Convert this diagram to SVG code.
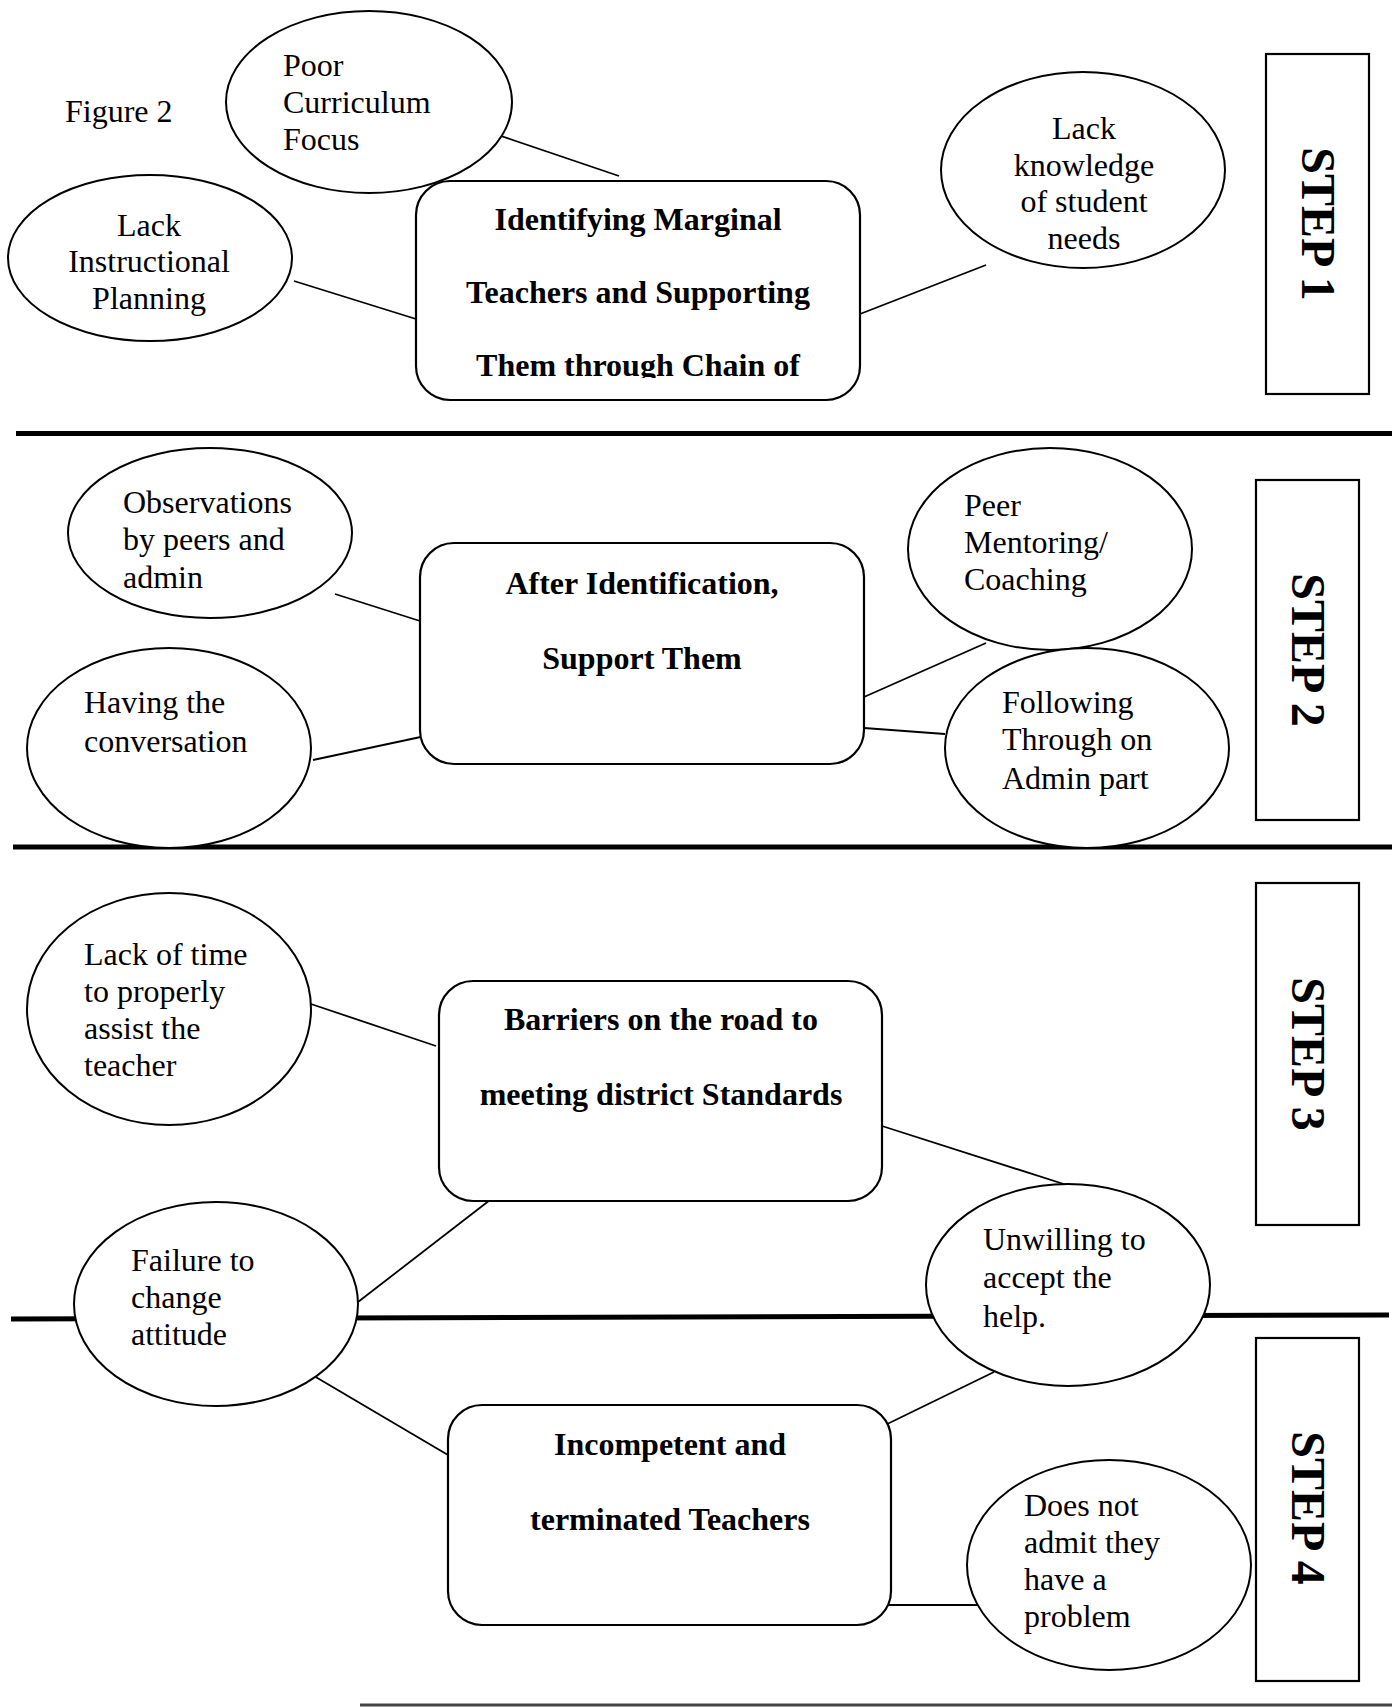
<svg xmlns="http://www.w3.org/2000/svg" width="1392" height="1708" viewBox="0 0 1392 1708">
<style>
.bg{fill:#fff}
.ell{fill:#fff;stroke:#000;stroke-width:2}
.box{fill:#fff;stroke:#000;stroke-width:2.2}
.stepbox{fill:#fff;stroke:#000;stroke-width:2.2}
.conn line{stroke:#000;stroke-width:1.8}
.sep{stroke:#000;stroke-width:5}
.t{font-family:"Liberation Serif","Times New Roman",serif;font-size:32px;fill:#000}
.c{text-anchor:middle}
.b{font-family:"Liberation Serif","Times New Roman",serif;font-size:32px;font-weight:bold;fill:#000;text-anchor:middle}
.step{font-family:"Liberation Serif","Times New Roman",serif;font-size:48px;font-weight:bold;fill:#000;text-anchor:middle}
</style>
<defs>
<clipPath id="clip1"><rect x="416" y="181" width="444" height="197"/></clipPath>
</defs>
<rect class="bg" x="0" y="0" width="1392" height="1708"/>

<g id="separators">
<line class="sep" x1="16" y1="433.5" x2="1392" y2="433.5"/>
<line class="sep" x1="13" y1="847" x2="1392" y2="847"/>
<line class="sep" x1="11" y1="1319" x2="1389" y2="1315"/>
<line x1="360" y1="1705" x2="1392" y2="1705" stroke="#444" stroke-width="3"/>
</g>

<text id="figure-label" class="t" x="65" y="122">Figure 2</text>

<g id="connectors" class="conn">
<line x1="501" y1="136" x2="619" y2="176"/>
<line x1="294" y1="281" x2="416" y2="319"/>
<line x1="860" y1="314" x2="986" y2="265"/>
<line x1="335" y1="594" x2="420" y2="621"/>
<line x1="313" y1="760" x2="430" y2="735"/>
<line x1="864" y1="697" x2="986" y2="643"/>
<line x1="864" y1="728" x2="945" y2="734"/>
<line x1="311" y1="1004" x2="436" y2="1046"/>
<line x1="358" y1="1302" x2="490" y2="1200"/>
<line x1="882" y1="1126" x2="1073" y2="1187"/>
<line x1="314" y1="1376" x2="448" y2="1455"/>
<line x1="994" y1="1372" x2="879" y2="1428"/>
<line x1="884" y1="1605" x2="982" y2="1605"/>
</g>

<g id="poor-curriculum">
<ellipse class="ell" cx="369" cy="102" rx="143" ry="91"/>
<text class="t" x="283" y="76">Poor</text>
<text class="t" x="283" y="113">Curriculum</text>
<text class="t" x="283" y="150">Focus</text>
</g>
<g id="lack-instructional">
<ellipse class="ell" cx="150" cy="258" rx="142" ry="83"/>
<text class="t c" x="149" y="236">Lack</text>
<text class="t c" x="149" y="272">Instructional</text>
<text class="t c" x="149" y="309">Planning</text>
</g>
<g id="identifying">
<rect class="box" x="416" y="181" width="444" height="219" rx="34"/>
<g clip-path="url(#clip1)">
<text class="b" x="638" y="230">Identifying Marginal</text>
<text class="b" x="638" y="303">Teachers and Supporting</text>
<text class="b" x="638" y="376">Them through Chain of</text>
</g>
</g>
<g id="lack-knowledge">
<ellipse class="ell" cx="1083" cy="170" rx="142" ry="98"/>
<text class="t c" x="1084" y="139">Lack</text>
<text class="t c" x="1084" y="176">knowledge</text>
<text class="t c" x="1084" y="212">of student</text>
<text class="t c" x="1084" y="249">needs</text>
</g>
<g id="step1">
<rect class="stepbox" x="1266" y="54" width="103" height="340"/>
<text class="step" transform="translate(1302,224) rotate(90)">STEP 1</text>
</g>

<g id="observations">
<ellipse class="ell" cx="210" cy="533" rx="142" ry="85"/>
<text class="t" x="123" y="513">Observations</text>
<text class="t" x="123" y="550">by peers and</text>
<text class="t" x="123" y="588">admin</text>
</g>
<g id="having-conversation">
<ellipse class="ell" cx="169" cy="748" rx="142" ry="100"/>
<text class="t" x="84" y="713">Having the</text>
<text class="t" x="84" y="752">conversation</text>
</g>
<g id="after-identification">
<rect class="box" x="420" y="543" width="444" height="221" rx="34"/>
<text class="b" x="642" y="594">After Identification,</text>
<text class="b" x="642" y="669">Support Them</text>
</g>
<g id="peer-mentoring">
<ellipse class="ell" cx="1050" cy="549" rx="142" ry="101"/>
<text class="t" x="964" y="516">Peer</text>
<text class="t" x="964" y="553">Mentoring/</text>
<text class="t" x="964" y="590">Coaching</text>
</g>
<g id="following-through">
<ellipse class="ell" cx="1087" cy="748" rx="142" ry="100"/>
<text class="t" x="1002" y="713">Following</text>
<text class="t" x="1002" y="750">Through on</text>
<text class="t" x="1002" y="789">Admin part</text>
</g>
<g id="step2">
<rect class="stepbox" x="1256" y="480" width="103" height="340"/>
<text class="step" transform="translate(1292,650) rotate(90)">STEP 2</text>
</g>

<g id="lack-of-time">
<ellipse class="ell" cx="169" cy="1009" rx="142" ry="116"/>
<text class="t" x="84" y="965">Lack of time</text>
<text class="t" x="84" y="1002">to properly</text>
<text class="t" x="84" y="1039">assist the</text>
<text class="t" x="84" y="1076">teacher</text>
</g>
<g id="barriers">
<rect class="box" x="439" y="981" width="443" height="220" rx="34"/>
<text class="b" x="661" y="1030">Barriers on the road to</text>
<text class="b" x="661" y="1105">meeting district Standards</text>
</g>
<g id="failure-to-change">
<ellipse class="ell" cx="216" cy="1304" rx="142" ry="102"/>
<text class="t" x="131" y="1271">Failure to</text>
<text class="t" x="131" y="1308">change</text>
<text class="t" x="131" y="1345">attitude</text>
</g>
<g id="unwilling">
<ellipse class="ell" cx="1068" cy="1285" rx="142" ry="101"/>
<text class="t" x="983" y="1250">Unwilling to</text>
<text class="t" x="983" y="1288">accept the</text>
<text class="t" x="983" y="1327">help.</text>
</g>
<g id="step3">
<rect class="stepbox" x="1256" y="883" width="103" height="342"/>
<text class="step" transform="translate(1292,1054) rotate(90)">STEP 3</text>
</g>

<g id="incompetent">
<rect class="box" x="448" y="1405" width="443" height="220" rx="34"/>
<text class="b" x="670" y="1455">Incompetent and</text>
<text class="b" x="670" y="1530">terminated Teachers</text>
</g>
<g id="does-not-admit">
<ellipse class="ell" cx="1109" cy="1565" rx="142" ry="105"/>
<text class="t" x="1024" y="1516">Does not</text>
<text class="t" x="1024" y="1553">admit they</text>
<text class="t" x="1024" y="1590">have a</text>
<text class="t" x="1024" y="1627">problem</text>
</g>
<g id="step4">
<rect class="stepbox" x="1256" y="1338" width="103" height="343"/>
<text class="step" transform="translate(1292,1508) rotate(90)">STEP 4</text>
</g>
</svg>
